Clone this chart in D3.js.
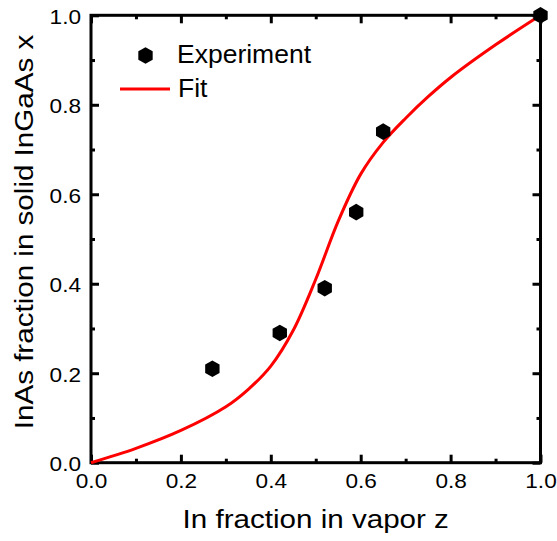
<!DOCTYPE html>
<html>
<head>
<meta charset="utf-8">
<script src="https://cdn.jsdelivr.net/npm/d3@7"></script>
<style>
  body { margin: 0; background: #fff; }
  text { font-family: "Liberation Sans", Arial, sans-serif; }
</style>
</head>
<body>
<div class="chart"></div>
<script>
const expZ = [0.27, 0.42, 0.52, 0.59, 0.65, 1.0];
const expX = [0.21, 0.29, 0.39, 0.56, 0.74, 1.0];

const fitZ = [0, 0.1, 0.2, 0.3, 0.35, 0.4, 0.45, 0.5, 0.55, 0.6, 0.65, 0.7, 0.75, 0.8, 0.9, 1.0];
const fitX = [0, 0.032, 0.072, 0.125, 0.164, 0.216, 0.296, 0.41, 0.54, 0.645, 0.716, 0.77, 0.818, 0.861, 0.934, 1.0];

const majorTicks = [0, 0.2, 0.4, 0.6, 0.8, 1.0];
const minorTicks = [0.1, 0.3, 0.5, 0.7, 0.9];

const legendLabels = ["Experiment", "Fit"];

// size of the page and plot box
const width = 557;
const height = 541;
const margin = {top: 15.3, left: 91, right: 16.5, bottom: 78.3};

// the text in the original is a bit wider than plain Arial
const stretch = 1.16;

const svg = d3.select('.chart')
    .append('svg')
    .attr('width', width)
    .attr('height', height);

const xScale = d3.scaleLinear()
    .domain([0, 1])
    .range([margin.left, width - margin.right]);

const yScale = d3.scaleLinear()
    .domain([0, 1])
    .range([height - margin.bottom, margin.top]);

// axes: ticks point inward on all four sides
function styleAxis(g) {
    g.select('.domain').remove();
    g.selectAll('line').attr('stroke', '#000').attr('stroke-width', 3);
}

const bottomY = height - margin.bottom;
const rightX = width - margin.right;

svg.append('g')
    .attr('transform', `translate(0,${bottomY})`)
    .call(d3.axisBottom(xScale).tickValues(minorTicks).tickSize(-4).tickFormat(''))
    .call(styleAxis);

const xAxisG = svg.append('g')
    .attr('transform', `translate(0,${bottomY})`)
    .call(d3.axisBottom(xScale).tickValues(majorTicks).tickSize(-8).tickPadding(11)
        .tickFormat(d3.format('.1f')))
    .call(styleAxis);

svg.append('g')
    .attr('transform', `translate(${margin.left},0)`)
    .call(d3.axisLeft(yScale).tickValues(minorTicks).tickSize(-4).tickFormat(''))
    .call(styleAxis);

const yAxisG = svg.append('g')
    .attr('transform', `translate(${margin.left},0)`)
    .call(d3.axisLeft(yScale).tickValues(majorTicks).tickSize(-8).tickPadding(10)
        .tickFormat(d3.format('.1f')))
    .call(styleAxis);

svg.append('g')
    .attr('transform', `translate(0,${margin.top})`)
    .call(d3.axisTop(xScale).tickValues(majorTicks).tickSize(-8).tickFormat(''))
    .call(styleAxis);
svg.append('g')
    .attr('transform', `translate(0,${margin.top})`)
    .call(d3.axisTop(xScale).tickValues(minorTicks).tickSize(-4).tickFormat(''))
    .call(styleAxis);

svg.append('g')
    .attr('transform', `translate(${rightX},0)`)
    .call(d3.axisRight(yScale).tickValues(majorTicks).tickSize(-8).tickFormat(''))
    .call(styleAxis);
svg.append('g')
    .attr('transform', `translate(${rightX},0)`)
    .call(d3.axisRight(yScale).tickValues(minorTicks).tickSize(-4).tickFormat(''))
    .call(styleAxis);

// tick label font
xAxisG.selectAll('text')
    .attr('fill', '#000')
    .attr('font-size', 19.5)
    .attr('dy', '0.71em')
    .attr('transform', `scale(${stretch},1)`);

yAxisG.selectAll('text')
    .attr('fill', '#000')
    .attr('font-size', 19.5)
    .attr('x', -10 / stretch)
    .attr('dy', '0.40em')
    .attr('transform', `scale(${stretch},1)`);

// frame
svg.append('rect')
    .attr('x', margin.left)
    .attr('y', margin.top)
    .attr('width', rightX - margin.left)
    .attr('height', bottomY - margin.top)
    .attr('fill', 'none')
    .attr('stroke', '#000')
    .attr('stroke-width', 3);

// fit line
const fitData = fitZ.map((z, i) => ({z: z, x: fitX[i]}));
const line = d3.line()
    .x(d => xScale(d.z))
    .y(d => yScale(d.x))
    .curve(d3.curveCatmullRom.alpha(0.5));

svg.append('path')
    .datum(fitData)
    .attr('d', line)
    .attr('fill', 'none')
    .attr('stroke', '#ff0000')
    .attr('stroke-width', 3);

// hexagon marker, pointy top
const hexagon = {
    draw: function(context, size) {
        const r = Math.sqrt(size * 2 / (3 * Math.sqrt(3)));
        for (let k = 0; k < 6; k++) {
            const a = Math.PI / 3 * k - Math.PI / 2;
            if (k === 0) context.moveTo(r * Math.cos(a), r * Math.sin(a));
            else context.lineTo(r * Math.cos(a), r * Math.sin(a));
        }
        context.closePath();
    }
};
const hexSize = 3 * Math.sqrt(3) / 2 * 8.3 * 8.3;
const hexPath = d3.symbol().type(hexagon).size(hexSize);

const expData = expZ.map((z, i) => ({z: z, x: expX[i]}));
svg.selectAll('.dot')
    .data(expData)
    .enter()
    .append('path')
    .attr('class', 'dot')
    .attr('d', hexPath)
    .attr('transform', d => `translate(${xScale(d.z)},${yScale(d.x)})`)
    .attr('fill', '#000');

// axis titles
svg.append('text')
    .attr('transform', `translate(${(margin.left + rightX) / 2},528) scale(${stretch},1)`)
    .attr('text-anchor', 'middle')
    .attr('font-size', 25.5)
    .text('In fraction in vapor z');

svg.append('text')
    .attr('transform', `translate(33,232) rotate(-90) scale(${stretch},1)`)
    .attr('text-anchor', 'middle')
    .attr('font-size', 25.5)
    .text('InAs fraction in solid InGaAs x');

// legend
svg.append('path')
    .attr('d', hexPath)
    .attr('transform', 'translate(145.5,55.5)')
    .attr('fill', '#000');

svg.append('line')
    .attr('x1', 120)
    .attr('x2', 170)
    .attr('y1', 89)
    .attr('y2', 89)
    .attr('stroke', '#ff0000')
    .attr('stroke-width', 3);

svg.append('text')
    .attr('x', 177)
    .attr('y', 63.3)
    .attr('font-size', 26.5)
    .text(legendLabels[0]);

svg.append('text')
    .attr('x', 178)
    .attr('y', 96.7)
    .attr('font-size', 26.5)
    .text(legendLabels[1]);
</script>
</body>
</html>
